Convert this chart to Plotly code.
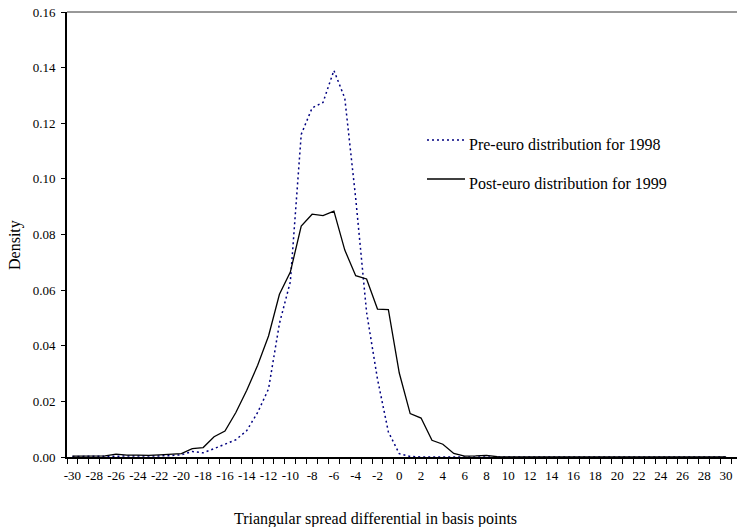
import plotly.graph_objects as go

# Data
spread = list(range(-30, 31))
pre_euro_1998 = [
    0.0002, 0.0002, 0.0002, 0.0003, 0.0003, 0.0004, 0.0004, 0.0003, 0.0004, 0.0005,  # -30..-21
    0.0008, 0.0020, 0.0015, 0.0030, 0.0045, 0.0062, 0.0095, 0.0160, 0.0245, 0.0480,  # -20..-11
    0.0630, 0.1160, 0.1255, 0.1275, 0.1390, 0.1290, 0.0930, 0.0520, 0.0280, 0.0090,  # -10..-1
    0.0012, 0.0002, 0.0, 0.0, 0.0, 0.0, 0.0, 0.0, 0.0, 0.0,                          # 0..9
    0.0, 0.0, 0.0, 0.0, 0.0, 0.0, 0.0, 0.0, 0.0, 0.0,                                # 10..19
    0.0, 0.0, 0.0, 0.0, 0.0, 0.0, 0.0, 0.0, 0.0, 0.0, 0.0,                           # 20..30
]
post_euro_1999 = [
    0.0003, 0.0003, 0.0003, 0.0004, 0.0010, 0.0007, 0.0007, 0.0006, 0.0008, 0.0009,  # -30..-21
    0.0012, 0.0030, 0.0034, 0.0073, 0.0093, 0.0160, 0.0240, 0.0330, 0.0435, 0.0585,  # -20..-11
    0.0665, 0.0830, 0.0873, 0.0868, 0.0884, 0.0744, 0.0652, 0.0640, 0.0532, 0.0530,  # -10..-1
    0.0302, 0.0156, 0.0140, 0.0060, 0.0046, 0.0013, 0.0003, 0.0004, 0.0006, 0.0001,  # 0..9
    0.0, 0.0, 0.0, 0.0, 0.0, 0.0, 0.0, 0.0, 0.0, 0.0,                                # 10..19
    0.0, 0.0, 0.0, 0.0, 0.0, 0.0, 0.0, 0.0, 0.0, 0.0, 0.0,                           # 20..30
]
x_tick_vals = list(range(-30, 31, 2))
x_tick_text = [str(v) for v in x_tick_vals]
y_tick_vals = [0.0, 0.02, 0.04, 0.06, 0.08, 0.10, 0.12, 0.14, 0.16]
labels = ["Pre-euro distribution for 1998", "Post-euro distribution for 1999"]

FONT = "Liberation Serif, Times New Roman, serif"
W, H = 737, 527
ML, MR, MT, MB = 67, 0, 12, 70
PW, PH = W - ML - MR, H - MT - MB


def px(x):
    return (x - ML) / PW


def py(y):
    return (H - MB - y) / PH


fig = go.Figure()
fig.add_trace(go.Scatter(
    x=spread, y=pre_euro_1998, mode="lines", name=labels[0],
    line=dict(color="#000080", width=1.5, dash="2px,3px"),
))
fig.add_trace(go.Scatter(
    x=spread, y=post_euro_1999, mode="lines", name=labels[1],
    line=dict(color="black", width=1.3),
))

shapes = [
    # top frame line
    dict(type="line", xref="paper", yref="paper", x0=0, x1=1, y0=1, y1=1,
         line=dict(color="#333333", width=1)),
    # legend samples
    dict(type="line", xref="paper", yref="paper", x0=px(427), x1=px(465), y0=py(140), y1=py(140),
         line=dict(color="#000080", width=1.5, dash="2px,3px")),
    dict(type="line", xref="paper", yref="paper", x0=px(427), x1=px(465), y0=py(179), y1=py(179),
         line=dict(color="black", width=1.3)),
]

annotations = [
    dict(text=labels[0], xref="paper", yref="paper", x=px(467), y=py(144),
         xanchor="left", yanchor="middle", showarrow=False,
         font=dict(family=FONT, size=16, color="black")),
    dict(text=labels[1], xref="paper", yref="paper", x=px(467), y=py(183),
         xanchor="left", yanchor="middle", showarrow=False,
         font=dict(family=FONT, size=16, color="black")),
    dict(text="Triangular spread differential in basis points", xref="paper", yref="paper",
         x=px(375), y=py(519), xanchor="center", yanchor="middle", showarrow=False,
         font=dict(family=FONT, size=16, color="black")),
    dict(text="Density", xref="paper", yref="paper", x=px(15), y=py(245), textangle=-90,
         xanchor="center", yanchor="middle", showarrow=False,
         font=dict(family=FONT, size=16, color="black")),
]

fig.update_layout(
    width=W, height=H,
    margin=dict(l=ML, r=MR, t=MT, b=MB, pad=0),
    paper_bgcolor="white", plot_bgcolor="white",
    showlegend=False,
    font=dict(family=FONT, size=13, color="black"),
    shapes=shapes, annotations=annotations,
    xaxis=dict(
        range=[-30.5, 31.0], tickmode="array", tickvals=x_tick_vals, ticktext=x_tick_text,
        ticks="", showgrid=False, zeroline=False,
        showline=True, linecolor="black", linewidth=1.5,
        tickfont=dict(family=FONT, size=13, color="black"),
        ticklabelstandoff=6,
        minor=dict(ticks="outside", tickmode="linear", tick0=-30.5, dtick=1,
                   ticklen=5, tickwidth=1, tickcolor="black", showgrid=False),
    ),
    yaxis=dict(
        range=[0, 0.16], tickmode="array", tickvals=y_tick_vals, tickformat=".2f",
        ticks="outside", ticklen=4, tickwidth=1, tickcolor="black",
        showgrid=False, zeroline=False,
        showline=True, linecolor="black", linewidth=2,
        tickfont=dict(family=FONT, size=13, color="black"),
        ticklabelstandoff=3,
    ),
)

fig.write_html("out.html")
